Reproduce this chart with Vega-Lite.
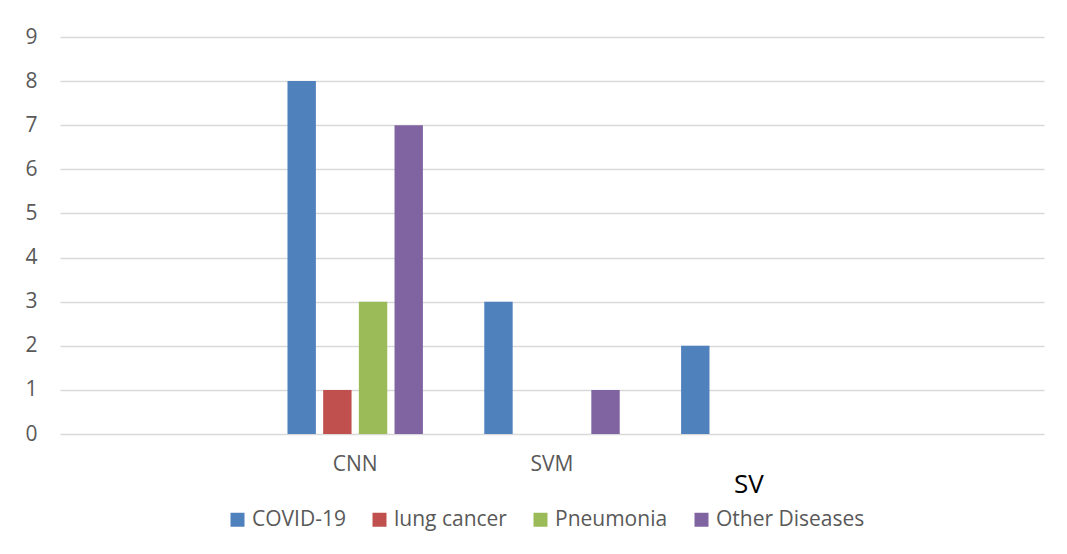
{
  "$schema": "https://vega.github.io/schema/vega-lite/v6.json",
  "width": 984,
  "height": 397,
  "autosize": "none",
  "padding": {"left": 60, "top": 37, "right": 23, "bottom": 120},
  "background": "white",
  "config": {
    "view": {"stroke": null},
    "font": "Open Sans"
  },
  "data": {
    "values": [
      {"model": "CNN", "disease": "COVID-19", "count": 8},
      {"model": "CNN", "disease": "lung cancer", "count": 1},
      {"model": "CNN", "disease": "Pneumonia", "count": 3},
      {"model": "CNN", "disease": "Other Diseases", "count": 7},
      {"model": "SVM", "disease": "COVID-19", "count": 3},
      {"model": "SVM", "disease": "Other Diseases", "count": 1},
      {"model": "SV", "disease": "COVID-19", "count": 2}
    ]
  },
  "mark": {"type": "bar"},
  "encoding": {
    "x": {
      "field": "model",
      "type": "nominal",
      "sort": null,
      "scale": {
        "domain": ["before", "CNN", "SVM", "SV", "after"],
        "paddingInner": 0,
        "paddingOuter": 0
      },
      "axis": {
        "title": null,
        "labelAngle": 0,
        "domain": false,
        "ticks": false,
        "grid": false,
        "labelExpr": "indexof(['CNN','SVM','SV'], datum.value) >= 0 ? datum.value : ''",
        "labelFontSize": {"condition": {"test": "datum.value === 'SV'", "value": 26}, "value": 21},
        "labelColor": {"condition": {"test": "datum.value === 'SV'", "value": "#000000"}, "value": "#595959"},
        "labelPadding": {"condition": {"test": "datum.value === 'SV'", "value": 37}, "value": 19}
      }
    },
    "xOffset": {
      "field": "disease",
      "type": "nominal",
      "sort": ["COVID-19", "lung cancer", "Pneumonia", "Other Diseases"],
      "scale": {"paddingInner": 0.204, "paddingOuter": 0.86}
    },
    "y": {
      "field": "count",
      "type": "quantitative",
      "scale": {"domain": [0, 9]},
      "axis": {
        "title": null,
        "values": [0, 1, 2, 3, 4, 5, 6, 7, 8, 9],
        "domain": false,
        "ticks": false,
        "labelPadding": 23,
        "labelFontSize": 21,
        "labelColor": "#595959",
        "gridColor": "#d9d9d9",
        "gridWidth": 1.5
      }
    },
    "color": {
      "field": "disease",
      "type": "nominal",
      "sort": ["COVID-19", "lung cancer", "Pneumonia", "Other Diseases"],
      "scale": {
        "domain": ["COVID-19", "lung cancer", "Pneumonia", "Other Diseases"],
        "range": ["#4f81bd", "#c0504d", "#9bbb59", "#8064a2"]
      },
      "legend": {
        "title": null,
        "orient": "none",
        "legendX": 167,
        "legendY": 472,
        "direction": "horizontal",
        "symbolType": "square",
        "symbolSize": 196,
        "symbolStrokeWidth": 0,
        "labelFontSize": 21,
        "labelColor": "#595959",
        "labelOffset": 4,
        "columnPadding": 23
      }
    }
  }
}
